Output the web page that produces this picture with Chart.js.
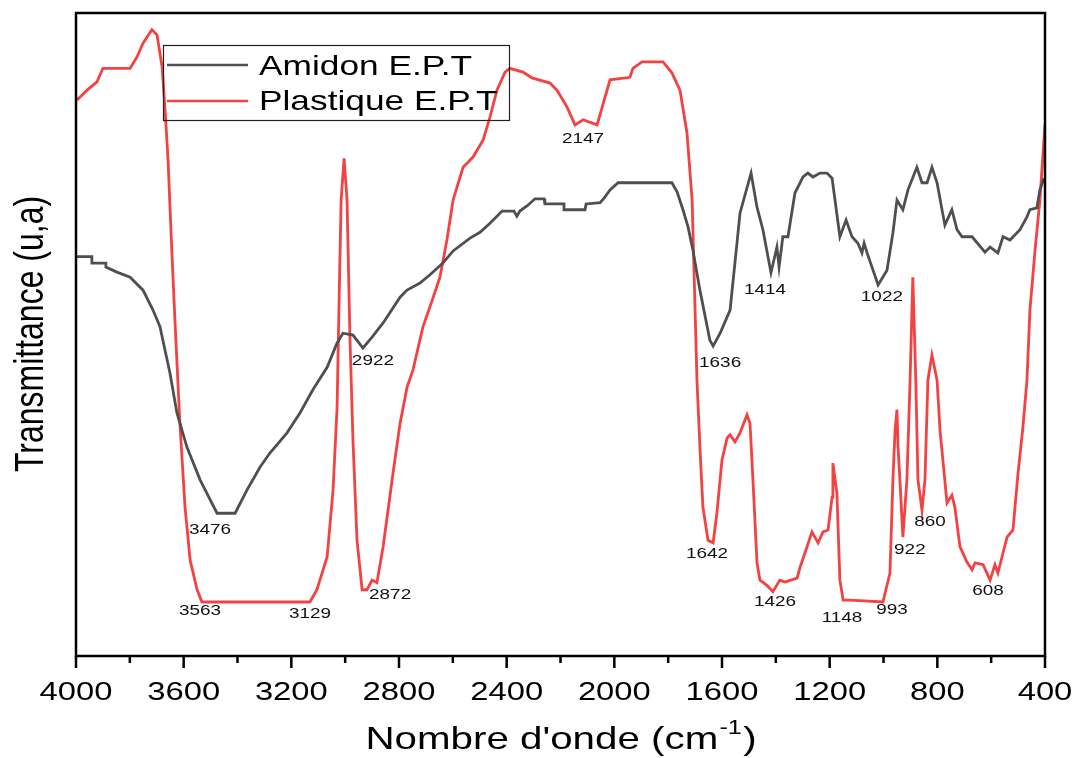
<!DOCTYPE html>
<html>
<head>
<meta charset="utf-8">
<title>Spectre IR</title>
<script src="https://cdn.jsdelivr.net/npm/chart.js@4.4.1/dist/chart.umd.min.js"></script>
<style>
  html, body { margin: 0; padding: 0; background: #fff; }
  #wrap { width: 1075px; height: 758px; }
</style>
</head>
<body>
<div id="wrap"><canvas id="ir" width="1075" height="758"></canvas></div>
<script>
// Données (nombre d'onde en cm-1, transmittance en u.a.)
const amidonX = [4000, 3941, 3941, 3889, 3889, 3848, 3799, 3751, 3714, 3688, 3651, 3625, 3588, 3539, 3476, 3409,
  3365, 3316, 3279, 3216, 3168, 3120, 3067, 3030, 3008, 2971, 2934, 2900, 2859, 2796, 2770, 2722, 2685, 2637, 2599,
  2536, 2499, 2462, 2417, 2373, 2362, 2351, 2321, 2295, 2261, 2258, 2187, 2187, 2109, 2105, 2053, 2038, 2016, 1986,
  1786, 1767, 1745, 1726, 1708, 1682, 1645, 1633, 1607, 1570, 1552, 1533, 1492, 1470, 1448, 1418, 1396, 1388, 1374,
  1355, 1329, 1299, 1281, 1262, 1236, 1210, 1191, 1162, 1139, 1117, 1095, 1080, 1072, 1061, 1020, 987, 965, 950,
  928, 909, 876, 857, 838, 820, 801, 772, 746, 727, 708, 671, 623, 604, 575, 556, 530, 493, 467, 456, 430, 419, 404];
const amidonY = [62.1, 62.1, 61.1, 61.1, 60.5, 59.7, 58.9, 56.9, 53.8, 51.2, 44.0, 37.8, 32.5, 27.4, 22.2, 22.2,
  25.8, 29.4, 31.6, 34.7, 37.8, 41.4, 44.9, 48.7, 50.2, 49.9, 47.9, 49.6, 51.8, 55.8, 56.9, 58.0, 59.3, 61.1, 63.0,
  65.0, 65.9, 67.3, 69.2, 69.2, 68.4, 69.2, 70.1, 71.1, 71.1, 70.3, 70.3, 69.4, 69.4, 70.3, 70.5, 71.2, 72.5, 73.6,
  73.6, 72.2, 69.4, 66.7, 63.1, 56.9, 49.1, 48.2, 50.2, 53.8, 61.1, 68.9, 75.1, 69.8, 66.3, 59.6, 63.6, 60.5, 65.2,
  65.2, 72.0, 74.5, 75.1, 74.5, 75.1, 75.1, 74.3, 65.2, 67.8, 65.2, 64.2, 62.7, 64.2, 62.7, 57.7, 60.0, 65.8, 70.9,
  69.4, 72.5, 76.0, 73.6, 73.6, 76.0, 73.6, 67.0, 69.4, 66.3, 65.2, 65.2, 62.8, 63.6, 62.7, 65.2, 64.7, 66.3, 68.3,
  69.4, 69.7, 72.5, 74.3];

const plastiqueX = [4000, 3993, 3959, 3922, 3900, 3799, 3773, 3751, 3718, 3699, 3680, 3669, 3658, 3643, 3632, 3614,
  3595, 3576, 3550, 3532, 3131, 3105, 3067, 3045, 3030, 3023, 3015, 3004, 2993, 2982, 2971, 2956, 2937, 2919, 2900,
  2882, 2859, 2822, 2796, 2770, 2748, 2711, 2685, 2648, 2622, 2599, 2562, 2525, 2488, 2462, 2436, 2406, 2388, 2339,
  2306, 2239, 2213, 2176, 2146, 2116, 2064, 2016, 1942, 1931, 1897, 1819, 1786, 1756, 1730, 1711, 1693, 1682, 1671,
  1652, 1633, 1619, 1600, 1581, 1570, 1552, 1533, 1507, 1496, 1485, 1470, 1459, 1433, 1411, 1385, 1366, 1321, 1310,
  1284, 1266, 1243, 1225, 1206, 1191, 1188, 1173, 1162, 1150, 1124, 1002, 976, 965, 957, 950, 946, 939, 928, 913,
  902, 891, 880, 872, 857, 846, 835, 820, 801, 790, 764, 746, 735, 716, 690, 671, 660, 630, 604, 586, 575, 541, 519,
  500, 482, 467, 456, 437, 419, 400];
const plastiqueY = [86.8, 86.6, 88.0, 89.3, 91.4, 91.4, 93.2, 95.3, 97.4, 96.6, 91.6, 84.9, 77.1, 62.1, 51.8, 36.2,
  23.2, 14.9, 10.3, 8.4, 8.4, 10.3, 15.4, 25.8, 38.7, 54.3, 70.9, 77.4, 70.9, 49.1, 33.6, 18.0, 10.3, 10.3, 11.8,
  11.4, 17.0, 28.5, 36.2, 41.8, 44.5, 51.2, 54.3, 58.9, 64.7, 70.9, 76.0, 77.6, 80.2, 83.8, 88.0, 90.8, 91.4, 90.8,
  89.9, 89.1, 88.0, 85.4, 82.6, 83.4, 82.6, 89.6, 90.0, 91.4, 92.4, 92.4, 90.7, 88.0, 81.3, 70.9, 42.9, 32.5, 23.2,
  18.0, 17.6, 22.2, 30.5, 33.9, 34.4, 33.3, 34.7, 37.5, 36.2, 27.4, 14.5, 11.8, 11.0, 10.0, 11.8, 11.5, 12.1, 13.8,
  17.0, 19.3, 17.6, 19.3, 19.6, 24.7, 30.0, 25.3, 11.8, 8.7, 8.7, 8.4, 12.9, 27.4, 35.1, 38.3, 32.5, 27.4, 18.5, 27.4,
  41.8, 58.9, 42.9, 27.4, 22.7, 27.4, 42.9, 46.8, 42.9, 35.1, 23.8, 25.0, 23.2, 17.0, 14.6, 13.4, 14.5, 14.2, 11.8,
  14.2, 12.9, 18.5, 19.6, 28.5, 35.6, 42.9, 53.8, 63.1, 70.9, 82.6];

// Graduations de l'axe X
const xMajorTicks = [4000, 3600, 3200, 2800, 2400, 2000, 1600, 1200, 800, 400];
const xMinorTicks = [3800, 3400, 3000, 2600, 2200, 1800, 1400, 1000, 600];

// Étiquettes des bandes (texte, position en nombre d'onde, position en transmittance)
const peakText = ['3476', '3563', '3129', '2922', '2872', '2147', '1636', '1414', '1022',
  '1642', '1426', '1148', '993', '922', '860', '608'];
const peakX = [3502, 3539, 3131, 2897, 2833, 2116, 1607, 1440, 1006, 1656, 1403, 1154, 968, 902, 827, 612];
const peakY = [19.6, 7.0, 6.5, 45.9, 9.5, 80.4, 45.6, 56.9, 55.8, 15.9, 8.4, 5.9, 7.2, 16.5, 20.8, 10.1];

const seriesNames = ['Amidon E.P.T', 'Plastique E.P.T'];
const GRAY = '#4f4f4f', RED = '#f24242';
const FONT = 'Arial, "Liberation Sans", sans-serif';
const SX = 1.26; // la figure d'origine est étirée horizontalement

const pts = (xs, ys) => xs.map((x, i) => ({ x, y: ys[i] }));

function wideText(ctx, txt, x, y, align){
  ctx.save();
  ctx.translate(x, y);
  ctx.scale(SX, 1);
  ctx.textAlign = align || 'left';
  ctx.fillText(txt, 0, 0);
  ctx.restore();
}

const decor = {
  id: 'decor',
  afterDatasetsDraw(chart){
    const { ctx, chartArea: a, scales } = chart;
    const sx = scales.x, sy = scales.y;
    ctx.save();

    // cadre
    ctx.strokeStyle = '#000';
    ctx.lineWidth = 2.5;
    ctx.strokeRect(a.left, a.top, a.right - a.left, a.bottom - a.top);

    // graduations
    ctx.lineWidth = 2.5;
    ctx.beginPath();
    xMajorTicks.forEach(v => { const p = sx.getPixelForValue(v); ctx.moveTo(p, a.bottom); ctx.lineTo(p, a.bottom + 12); });
    xMinorTicks.forEach(v => { const p = sx.getPixelForValue(v); ctx.moveTo(p, a.bottom); ctx.lineTo(p, a.bottom + 7); });
    ctx.stroke();

    // libellés des graduations
    ctx.fillStyle = '#000';
    ctx.textBaseline = 'alphabetic';
    ctx.font = `26px ${FONT}`;
    xMajorTicks.forEach(v => wideText(ctx, String(v), sx.getPixelForValue(v), 700, 'center'));

    // étiquettes des bandes
    ctx.font = `15px ${FONT}`;
    ctx.fillStyle = '#111';
    ctx.textBaseline = 'middle';
    peakText.forEach((t, i) => wideText(ctx, t, sx.getPixelForValue(peakX[i]), sy.getPixelForValue(peakY[i]), 'center'));

    // titre X avec exposant
    ctx.fillStyle = '#000';
    ctx.textBaseline = 'alphabetic';
    const main = "Nombre d'onde (cm", sup = '-1', end = ')';
    ctx.font = `32px ${FONT}`;
    const wMain = ctx.measureText(main).width, wEnd = ctx.measureText(end).width;
    ctx.font = `20px ${FONT}`;
    const wSup = ctx.measureText(sup).width;
    const total = (wMain + wSup + wEnd + 2) * SX;
    let x0 = 561 - total / 2;
    ctx.font = `32px ${FONT}`;
    wideText(ctx, main, x0, 749, 'left');
    ctx.font = `20px ${FONT}`;
    wideText(ctx, sup, x0 + (wMain + 1) * SX, 734, 'left');
    ctx.font = `32px ${FONT}`;
    wideText(ctx, end, x0 + (wMain + wSup + 2) * SX, 749, 'left');

    // titre Y
    ctx.save();
    ctx.translate(43, 334);
    ctx.scale(SX, 1);
    ctx.rotate(-Math.PI / 2);
    ctx.textAlign = 'center';
    ctx.font = `32px ${FONT}`;
    ctx.fillText('Transmittance (u,a)', 0, 0);
    ctx.restore();

    // légende
    ctx.lineWidth = 1.2;
    ctx.strokeStyle = '#222';
    ctx.strokeRect(163.5, 45.5, 346, 75);
    ctx.lineWidth = 2.6;
    [GRAY, RED].forEach((c, i) => {
      const yy = i === 0 ? 65 : 101;
      ctx.strokeStyle = c;
      ctx.beginPath(); ctx.moveTo(167, yy); ctx.lineTo(248, yy); ctx.stroke();
    });
    ctx.fillStyle = '#000';
    ctx.font = `28px ${FONT}`;
    wideText(ctx, seriesNames[0], 259, 75, 'left');
    wideText(ctx, seriesNames[1], 259, 110, 'left');

    ctx.restore();
  }
};

new Chart(document.getElementById('ir'), {
  type: 'line',
  data: {
    datasets: [
      { label: seriesNames[0], data: pts(amidonX, amidonY), borderColor: GRAY, borderWidth: 2.8, pointRadius: 0, tension: 0, fill: false },
      { label: seriesNames[1], data: pts(plastiqueX, plastiqueY), borderColor: RED, borderWidth: 2.8, pointRadius: 0, tension: 0, fill: false }
    ]
  },
  options: {
    responsive: false,
    animation: false,
    layout: { padding: { left: 76, right: 30, top: 13, bottom: 102 } },
    plugins: { legend: { display: false }, tooltip: { enabled: false } },
    scales: {
      x: { type: 'linear', reverse: true, min: 400, max: 4000, display: false },
      y: { type: 'linear', min: 0, max: 100, display: false }
    }
  },
  plugins: [decor]
});
</script>
</body>
</html>
